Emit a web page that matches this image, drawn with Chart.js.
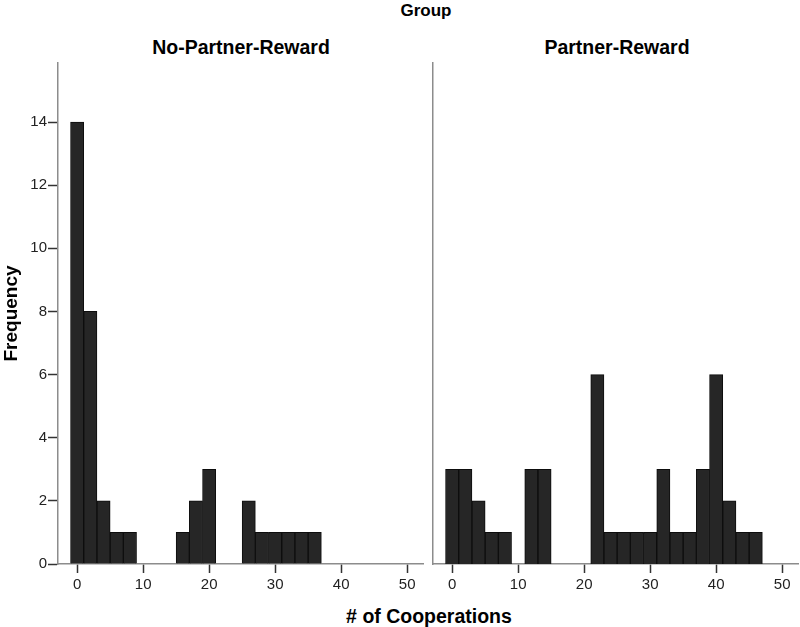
<!DOCTYPE html>
<html>
<head>
<meta charset="utf-8">
<script src="https://cdn.jsdelivr.net/npm/chart.js@4"></script>
<style>
  body { margin: 0; background: #fff; width: 800px; height: 627px; position: relative; overflow: hidden;
         font-family: "Liberation Sans", Arial, sans-serif; }
  .lbl { position: absolute; font-weight: bold; color: #000; white-space: nowrap; transform: translateX(-50%); line-height: 1; }
  #wl { position: absolute; left: 0; top: 0; width: 430px; height: 627px; }
  #wr { position: absolute; left: 425px; top: 0; width: 375px; height: 627px; }
</style>
</head>
<body>
<div class="lbl" style="left:426px; top:2px; font-size:17px;">Group</div>
<div class="lbl" style="left:241px; top:38px; font-size:19.5px;">No-Partner-Reward</div>
<div class="lbl" style="left:617px; top:38px; font-size:19.5px;">Partner-Reward</div>
<div class="lbl" style="left:429px; top:607px; font-size:19.5px;"># of Cooperations</div>
<div id="wl"><canvas id="left"></canvas></div>
<div id="wr"><canvas id="right"></canvas></div>
<script>
// bin centres (bin width 2)
const bins = [0, 2, 4, 6, 8, 10, 12, 14, 16, 18, 20, 22, 24, 26, 28, 30, 32, 34, 36, 38, 40, 42, 44, 46, 48, 50];
const noPartner = [14, 8, 2, 1, 1, 0, 0, 0, 1, 2, 3, 0, 0, 2, 1, 1, 1, 1, 1, 0, 0, 0, 0, 0, 0, 0];
const partner   = [3, 3, 2, 1, 1, 0, 3, 3, 0, 0, 0, 6, 1, 1, 1, 1, 3, 1, 1, 3, 6, 2, 1, 1, 0, 0];
const xTicks = [0, 10, 20, 30, 40, 50];
const yTicks = [0, 2, 4, 6, 8, 10, 12, 14];

const tickFont = { family: "Liberation Sans", size: 15 };

function makeChart(id, counts, showY) {
  return new Chart(document.getElementById(id), {
    type: 'bar',
    data: {
      datasets: [{
        data: bins.map((b, i) => ({ x: b, y: counts[i] })),
        backgroundColor: '#262626',
        borderColor: '#0d0d0d',
        borderWidth: 1,
        borderSkipped: 'start',
        barPercentage: 1,
        categoryPercentage: 1
      }]
    },
    options: {
      responsive: true,
      maintainAspectRatio: false,
      animation: false,
      layout: { padding: { top: 63, right: showY ? 7 : 2, left: 0, bottom: 0 } },
      plugins: { legend: { display: false }, tooltip: { enabled: false } },
      scales: {
        x: {
          type: 'linear',
          offset: false,
          min: -2.9,
          max: 52.4,
          afterFit: s => { s.height = 63; },
          afterBuildTicks: s => { s.ticks = xTicks.map(v => ({ value: v })); },
          ticks: { font: tickFont, color: '#222', padding: 3, maxRotation: 0 },
          grid: { offset: false, drawOnChartArea: false, tickLength: 9, tickColor: '#333', tickWidth: 1.5 },
          border: { display: true, color: '#8c8c8c', width: 1.5 }
        },
        y: {
          min: 0,
          max: 15.87,
          afterFit: s => { s.width = showY ? 58 : 8; },
          afterBuildTicks: s => { s.ticks = yTicks.map(v => ({ value: v })); },
          ticks: { display: showY, font: tickFont, color: '#222', padding: 1 },
          grid: { display: showY, drawOnChartArea: false, tickLength: 10, tickColor: '#333', tickWidth: 1.5 },
          border: { display: true, color: '#8c8c8c', width: 1.5 },
          title: {
            display: showY, text: 'Frequency', color: '#000',
            font: { family: "Liberation Sans", size: 19, weight: 'bold' },
            padding: { top: 0, bottom: 0 }
          }
        }
      }
    }
  });
}

makeChart('left', noPartner, true);
makeChart('right', partner, false);
</script>
</body>
</html>
